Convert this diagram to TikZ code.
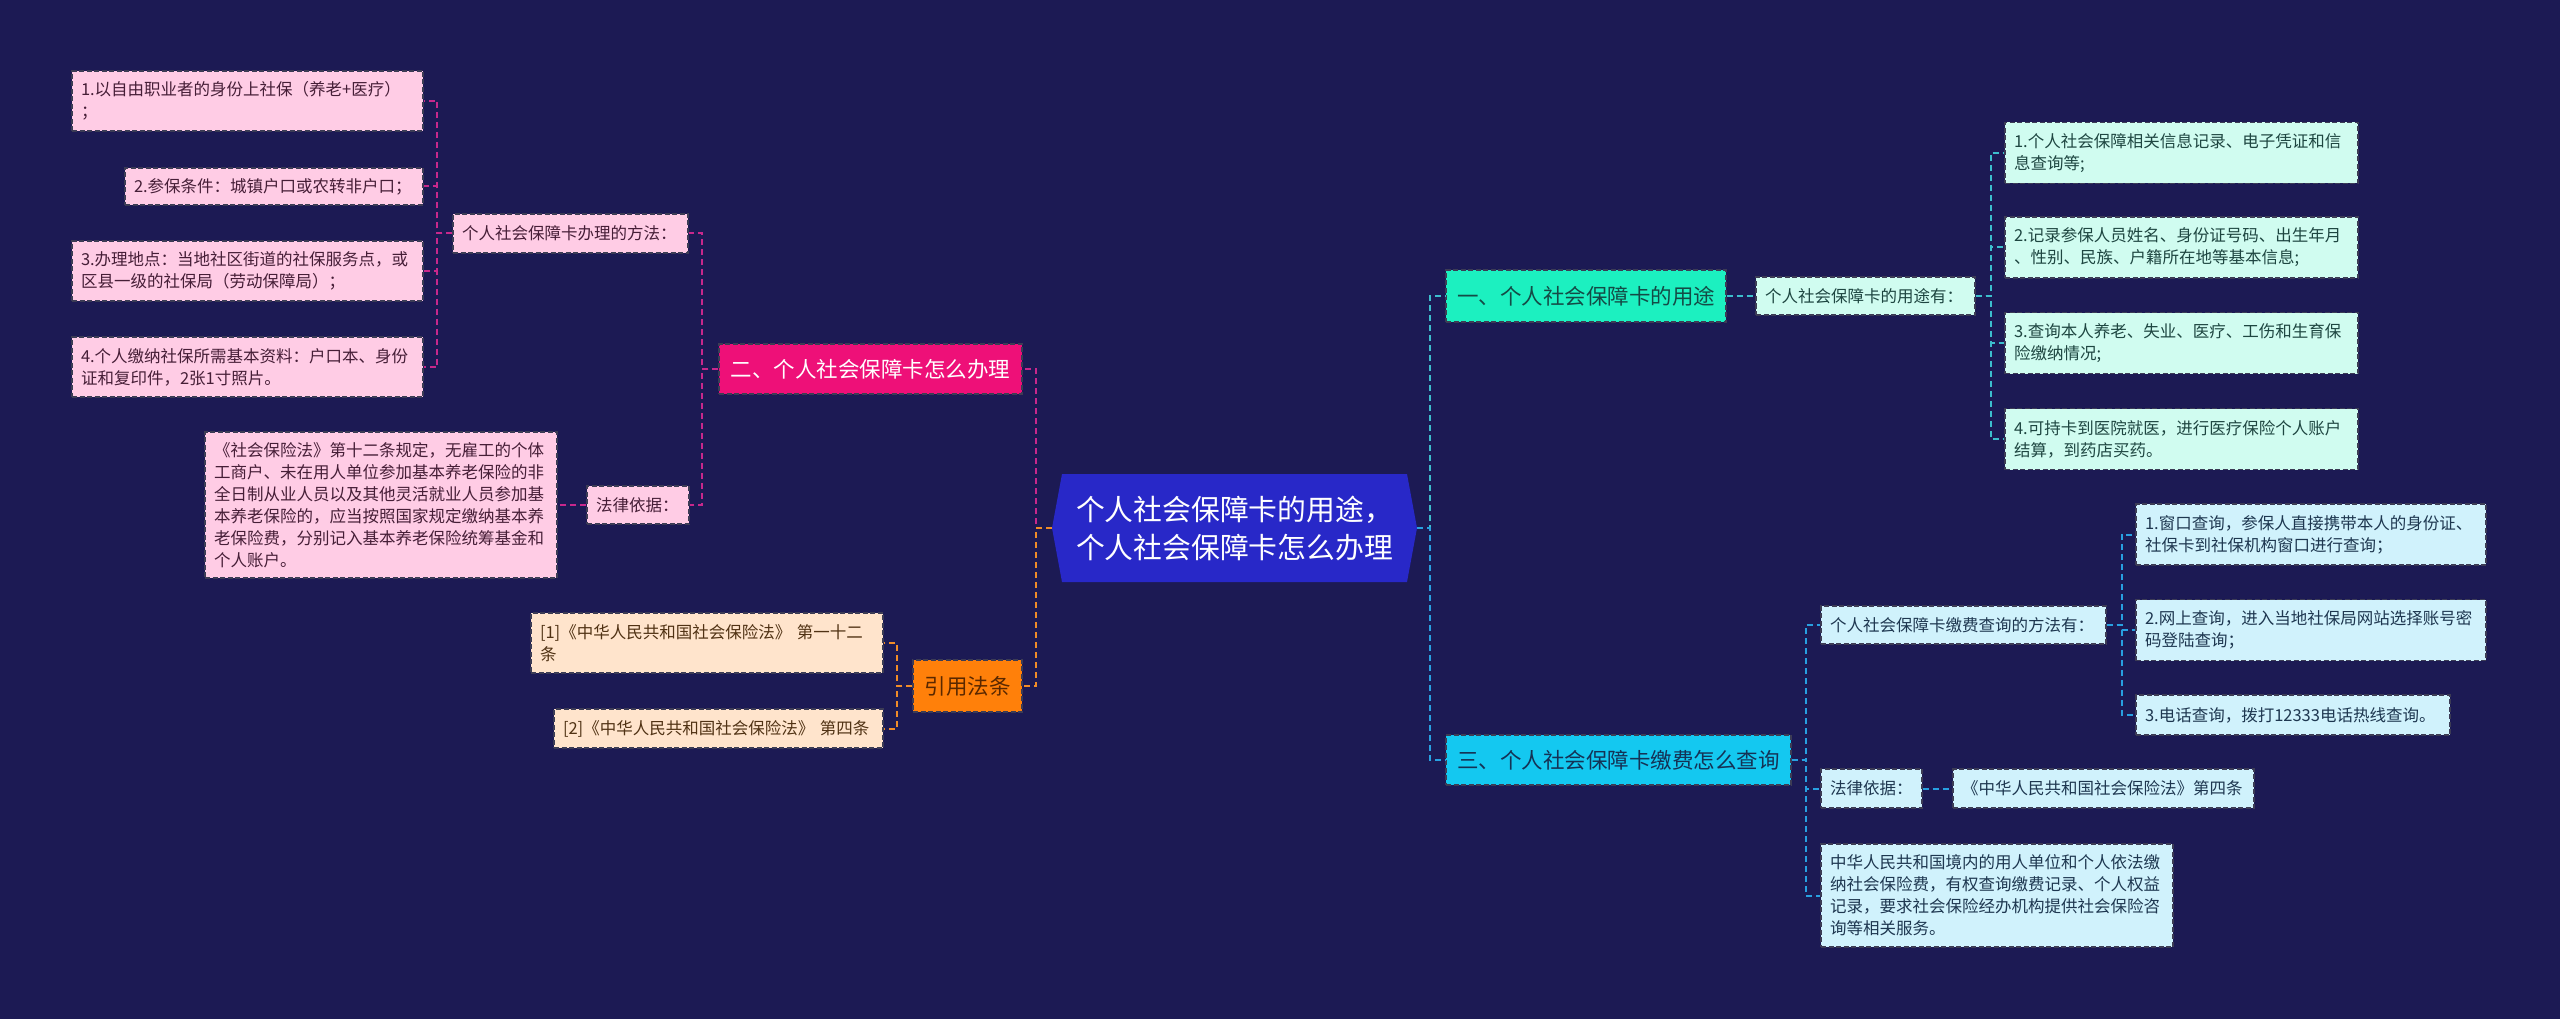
\documentclass[tikz,border=0pt]{standalone}
\usepackage{fontspec}
\setmainfont{Noto Sans CJK SC}
\definecolor{bgc}{RGB}{28,26,84}
\definecolor{boxborder}{RGB}{60,60,85}
\definecolor{pinkfill}{RGB}{255,204,229}
\definecolor{pinktext}{RGB}{70,30,55}
\definecolor{citefill}{RGB}{255,228,204}
\definecolor{citetext}{RGB}{80,50,20}
\definecolor{mintfill}{RGB}{208,252,240}
\definecolor{minttext}{RGB}{30,70,65}
\definecolor{bluefill}{RGB}{208,242,252}
\definecolor{bluetext}{RGB}{30,55,80}
\definecolor{twofill}{RGB}{238,16,120}
\definecolor{onefill}{RGB}{28,240,192}
\definecolor{onetext}{RGB}{20,75,70}
\definecolor{threefill}{RGB}{20,200,240}
\definecolor{threetext}{RGB}{20,50,85}
\definecolor{citenodefill}{RGB}{255,128,10}
\definecolor{citenodetext}{RGB}{90,40,0}
\definecolor{rootfill}{RGB}{40,40,200}
\definecolor{pinkline}{RGB}{200,40,140}
\definecolor{orangeline}{RGB}{240,140,40}
\definecolor{tealline}{RGB}{60,190,205}
\definecolor{blueline}{RGB}{40,160,225}
\tikzset{
  conn/.style={line width=2pt, dash pattern=on 6pt off 4pt},
  pinkc/.style={conn, draw=pinkline},
  orangec/.style={conn, draw=orangeline},
  tealc/.style={conn, draw=tealline},
  bluec/.style={conn, draw=blueline},
  mmbox/.style={rectangle, draw=boxborder, line width=1.2pt, dash pattern=on 5pt off 2.5pt,
    inner xsep=9pt, inner ysep=0pt, align=left, font=\fontsize{16.5}{22}\selectfont},
  pinkleaf/.style={mmbox, fill=pinkfill, text=pinktext},
  citeleaf/.style={mmbox, fill=citefill, text=citetext},
  mintleaf/.style={mmbox, fill=mintfill, text=minttext},
  blueleaf/.style={mmbox, fill=bluefill, text=bluetext},
  lvlbox/.style={mmbox, inner xsep=10pt, align=center, font=\fontsize{21.5}{26}\selectfont},
  roottext/.style={align=center, text=white, font=\fontsize{28.8}{38}\selectfont, inner sep=0pt},
}
\begin{document}
\begin{tikzpicture}[x=1pt,y=-1pt]
\fill[bgc] (0,0) rectangle (2560,1019);
\useasboundingbox (0,0) rectangle (2560,1019);

% root
\fill[rootfill] (1052,528) -- (1062,474) -- (1407,474) -- (1417,528) -- (1407,582) -- (1062,582) -- cycle;
\coordinate (rootL) at (1052,528);
\coordinate (rootR) at (1417,528);
\node[roottext] (root) at (1234.5,528) {个人社会保障卡的用途，\\个人社会保障卡怎么办理};

% left branch: 二
\node[lvlbox, fill=twofill, text=white, text width=283pt, minimum height=50pt] (n2) at (870.5,369) {二、个人社会保障卡怎么办理};
\node[pinkleaf, text width=217pt, minimum height=39pt] (fangfa) at (570.5,233.5) {个人社会保障卡办理的方法：};
\node[pinkleaf, text width=333pt, minimum height=60pt] (p1) at (247.5,101) {1.以自由职业者的身份上社保（养老+医疗）\\；};
\node[pinkleaf, text width=280pt, minimum height=37pt] (p2) at (274,186.5) {2.参保条件：城镇户口或农转非户口；};
\node[pinkleaf, text width=333pt, minimum height=60pt] (p3) at (247.5,271) {3.办理地点：当地社区街道的社保服务点，或\\区县一级的社保局（劳动保障局）；};
\node[pinkleaf, text width=333pt, minimum height=60pt] (p4) at (247.5,367) {4.个人缴纳社保所需基本资料：户口本、身份\\证和复印件，2张1寸照片。};
\node[pinkleaf, text width=84pt, minimum height=38pt] (law1) at (638,505) {法律依据：};
\node[pinkleaf, text width=334pt, minimum height=146pt] (big) at (381,505) {《社会保险法》第十二条规定，无雇工的个体\\工商户、未在用人单位参加基本养老保险的非\\全日制从业人员以及其他灵活就业人员参加基\\本养老保险的，应当按照国家规定缴纳基本养\\老保险费，分别记入基本养老保险统筹基金和\\个人账户。};

% left branch: 引用法条
\node[lvlbox, fill=citenodefill, text=citenodetext, text width=89pt, minimum height=52pt] (cite) at (967.5,686) {引用法条};
\node[citeleaf, text width=334pt, minimum height=60pt] (c1) at (707,643) {[1]《中华人民共和国社会保险法》 第一十二\\条};
\node[citeleaf, text width=311pt, minimum height=39pt] (c2) at (718.5,728.5) {[2]《中华人民共和国社会保险法》 第四条};

% right branch: 一
\node[lvlbox, fill=onefill, text=onetext, text width=260pt, minimum height=52pt] (n1) at (1586,296) {一、个人社会保障卡的用途};
\node[mintleaf, text width=201pt, minimum height=38pt] (yt) at (1865.5,296) {个人社会保障卡的用途有：};
\node[mintleaf, text width=335pt, minimum height=61pt] (u1) at (2181.5,153) {1.个人社会保障相关信息记录、电子凭证和信\\息查询等;};
\node[mintleaf, text width=335pt, minimum height=61pt] (u2) at (2181.5,247.5) {2.记录参保人员姓名、身份证号码、出生年月\\、性别、民族、户籍所在地等基本信息;};
\node[mintleaf, text width=335pt, minimum height=61pt] (u3) at (2181.5,343) {3.查询本人养老、失业、医疗、工伤和生育保\\险缴纳情况;};
\node[mintleaf, text width=335pt, minimum height=61pt] (u4) at (2181.5,439) {4.可持卡到医院就医，进行医疗保险个人账户\\结算，到药店买药。};

% right branch: 三
\node[lvlbox, fill=threefill, text=threetext, text width=325pt, minimum height=50pt] (n3) at (1618.5,760) {三、个人社会保障卡缴费怎么查询};
\node[blueleaf, text width=267pt, minimum height=38pt] (jf) at (1963.5,625) {个人社会保障卡缴费查询的方法有：};
\node[blueleaf, text width=332pt, minimum height=61pt] (j1) at (2311,534.5) {1.窗口查询，参保人直接携带本人的身份证、\\社保卡到社保机构窗口进行查询；};
\node[blueleaf, text width=332pt, minimum height=61pt] (j2) at (2311,630) {2.网上查询，进入当地社保局网站选择账号密\\码登陆查询；};
\node[blueleaf, text width=296pt, minimum height=40pt] (j3) at (2293,715) {3.电话查询，拨打12333电话热线查询。};
\node[blueleaf, text width=83pt, minimum height=39pt] (law2) at (1871.5,788.5) {法律依据：};
\node[blueleaf, text width=283pt, minimum height=39pt] (d4) at (2103.5,788.5) {《中华人民共和国社会保险法》第四条};
\node[blueleaf, text width=334pt, minimum height=103pt] (zh) at (1997,895.5) {中华人民共和国境内的用人单位和个人依法缴\\纳社会保险费，有权查询缴费记录、个人权益\\记录，要求社会保险经办机构提供社会保险咨\\询等相关服务。};

% connectors: root
\draw[pinkc] (rootL) -- ++(-16,0) |- (n2.east);
\draw[orangec] (rootL) -- ++(-16,0) |- (cite.east);
\draw[tealc] (rootR) -- ++(13,0) |- (n1.west);
\draw[bluec] (rootR) -- ++(13,0) |- (n3.west);

% connectors: 二
\draw[pinkc] (n2.west) -- ++(-16,0) |- (fangfa.east);
\draw[pinkc] (n2.west) -- ++(-16,0) |- (law1.east);
\draw[pinkc] (fangfa.west) -- ++(-15,0) |- (p1.east);
\draw[pinkc] (fangfa.west) -- ++(-15,0) |- (p2.east);
\draw[pinkc] (fangfa.west) -- ++(-15,0) |- (p3.east);
\draw[pinkc] (fangfa.west) -- ++(-15,0) |- (p4.east);
\draw[pinkc] (law1.west) -- (big.east);

% connectors: 引用法条
\draw[orangec] (cite.west) -- ++(-15,0) |- (c1.east);
\draw[orangec] (cite.west) -- ++(-15,0) |- (c2.east);

% connectors: 一
\draw[tealc] (n1.east) -- (yt.west);
\draw[tealc] (yt.east) -- ++(15,0) |- (u1.west);
\draw[tealc] (yt.east) -- ++(15,0) |- (u2.west);
\draw[tealc] (yt.east) -- ++(15,0) |- (u3.west);
\draw[tealc] (yt.east) -- ++(15,0) |- (u4.west);

% connectors: 三
\draw[bluec] (n3.east) -- ++(14,0) |- (jf.west);
\draw[bluec] (n3.east) -- ++(14,0) |- (law2.west);
\draw[bluec] (n3.east) -- ++(14,0) |- (zh.west);
\draw[bluec] (jf.east) -- ++(15,0) |- (j1.west);
\draw[bluec] (jf.east) -- ++(15,0) |- (j2.west);
\draw[bluec] (jf.east) -- ++(15,0) |- (j3.west);
\draw[bluec] (law2.east) -- (d4.west);
\end{tikzpicture}
\end{document}
